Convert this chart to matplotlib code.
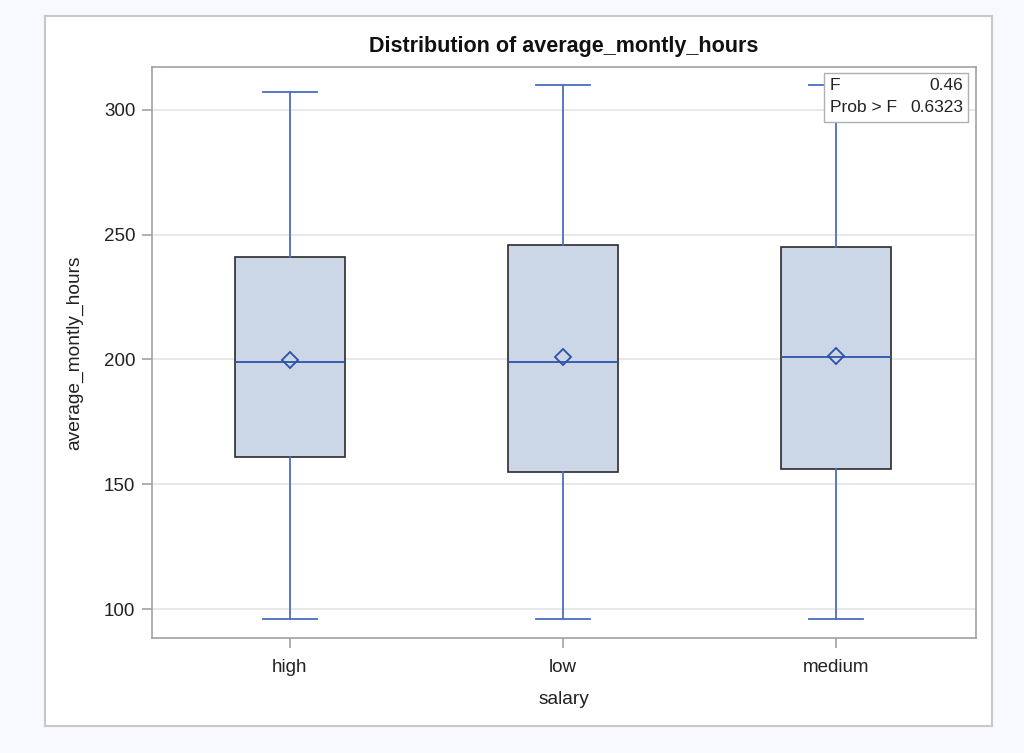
import matplotlib
matplotlib.use("Agg")
import matplotlib.pyplot as plt
from matplotlib.patches import Rectangle

plt.rcParams['font.family'] = ['Liberation Sans', 'DejaVu Sans']

categories = ["high", "low", "medium"]
whislo = [96, 96, 96]
q1 = [161, 155, 156]
med = [199, 199, 201]
q3 = [241, 246, 245]
whishi = [307, 310, 310]
means = [199.9, 201.0, 201.3]
f_value = "0.46"
prob_f = "0.6323"

fig = plt.figure(figsize=(10.24, 7.53), dpi=100)
fig.patch.set_facecolor('#f8f9fe')

# inner white panel (background axes)
bg = fig.add_axes([45/1024, 1-726/753, (992-45)/1024, (726-16)/753], zorder=-10)
bg.set_facecolor('white')
bg.set_xticks([]); bg.set_yticks([])
for s in bg.spines.values():
    s.set_color('#c8c8c8')
    s.set_linewidth(1.5)

ax = fig.add_axes([152/1024, 1-638/753, (976-152)/1024, (638-67)/753])
ax.set_facecolor('white')

stats = []
for i, c in enumerate(categories):
    stats.append(dict(label=c, whislo=whislo[i], q1=q1[i], med=med[i],
                      q3=q3[i], whishi=whishi[i], mean=means[i], fliers=[]))

blue = '#4a6cc4'
ax.bxp(stats, positions=range(len(categories)), widths=0.405,
       patch_artist=True, showmeans=True, showfliers=False,
       boxprops=dict(facecolor='#cbd6e6', edgecolor='#2b2b2b', linewidth=1.2),
       medianprops=dict(color='#2c52a8', linewidth=1.3),
       whiskerprops=dict(color=blue, linewidth=1.3),
       capprops=dict(color=blue, linewidth=1.3),
       capwidths=0.2,
       meanprops=dict(marker='D', markerfacecolor='none', markeredgecolor='#2c52a8',
                      markeredgewidth=1.3, markersize=8))

ax.set_xlim(-0.505, 2.513)
ax.set_ylim(88.4, 317.2)
ax.set_yticks([100, 150, 200, 250, 300])
ax.yaxis.grid(True, color='#e4e4e4', linewidth=1.2)
ax.set_axisbelow(True)
for s in ax.spines.values():
    s.set_color('#9ea2a8')
    s.set_linewidth(1.2)
ax.tick_params(axis='both', colors='#9ea2a8', labelcolor='#222222',
               labelsize=13.5, length=7, width=1.2)
ax.tick_params(axis='x', pad=8)
ax.tick_params(axis='y', pad=5)

ax.set_xlabel('salary', fontsize=13.8, color='#222222', labelpad=11)
ax.set_ylabel('average_montly_hours', fontsize=13.8, color='#222222', labelpad=15)
ax.set_title('Distribution of average_montly_hours', fontsize=15.5,
             fontweight='bold', color='#111111', pad=11)

# F statistic inset box
x0 = (824-152)/824; x1 = (968-152)/824
y1 = (638-73)/571; y0 = (638-122)/571
ax.add_patch(Rectangle((x0, y0), x1-x0, y1-y0, transform=ax.transAxes,
                       facecolor='white', edgecolor='#b0b0b0', linewidth=1, zorder=5))
tx_l = (830-152)/824; tx_r = (963-152)/824
r1 = (638-86)/571; r2 = (638-108)/571
kw = dict(transform=ax.transAxes, fontsize=12.5, color='#222222', zorder=6, va='center')
ax.text(tx_l, r1, 'F', ha='left', **kw)
ax.text(tx_r, r1, f_value, ha='right', **kw)
ax.text(tx_l, r2, 'Prob > F', ha='left', **kw)
ax.text(tx_r, r2, prob_f, ha='right', **kw)

fig.savefig('out.png', dpi=100, facecolor=fig.get_facecolor())
